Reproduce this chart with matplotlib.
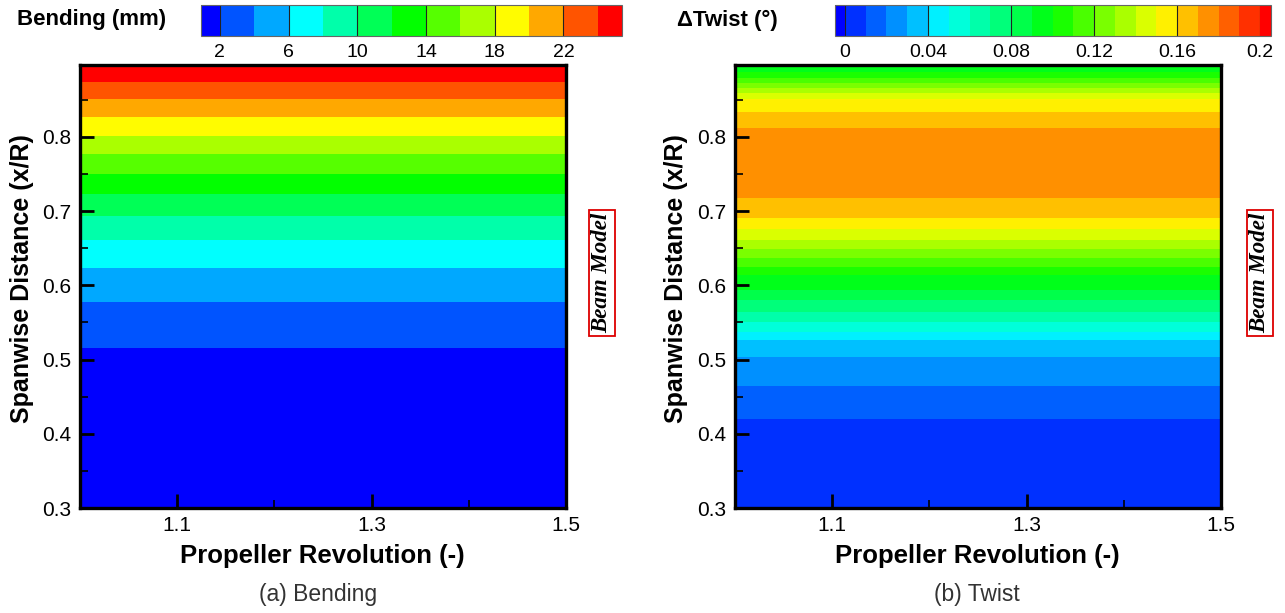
import matplotlib
matplotlib.use("Agg")
import matplotlib.pyplot as plt
from matplotlib.colors import LinearSegmentedColormap
import numpy as np

plt.rcParams["font.family"] = ["Liberation Sans", "DejaVu Sans"]

# propeller revolution stations (x axis), results are uniform along it
revolution = [1.0, 1.1, 1.2, 1.3, 1.4, 1.5]

# bending (mm) along the span
span_bend = [0.300, 0.5152, 0.578, 0.6235, 0.6612, 0.6939, 0.7232, 0.7501,
             0.7767, 0.8018, 0.8265, 0.8508, 0.8745, 0.897]
bending = [0.9, 2, 4, 6, 8, 10, 12, 14, 16, 18, 20, 22, 24, 25.9]

# delta twist (deg) along the span
span_twist = [0.300, 0.4195, 0.4644, 0.5039, 0.5264, 0.5376, 0.5511, 0.5646,
              0.5803, 0.5938, 0.6140, 0.6252, 0.6365, 0.6487, 0.6612, 0.6756,
              0.6904, 0.7182, 0.765, 0.8117, 0.8341, 0.8508, 0.8589, 0.8656,
              0.8724, 0.8791, 0.8880, 0.897]
twist = [0.004, 0.01, 0.02, 0.03, 0.04, 0.05, 0.06, 0.07, 0.08, 0.09, 0.10,
         0.11, 0.12, 0.13, 0.14, 0.15, 0.16, 0.17, 0.178, 0.17, 0.16, 0.15,
         0.14, 0.13, 0.12, 0.11, 0.10, 0.095]

bend_levels = np.arange(2, 25, 2)
bend_ticks = [2, 6, 10, 14, 18, 22]
twist_levels = np.round(np.linspace(0, 0.2, 21), 3)
twist_ticks = [0, 0.04, 0.08, 0.12, 0.16, 0.2]
twist_ticklabels = ["0", "0.04", "0.08", "0.12", "0.16", "0.2"]

W, H = 1285, 613
rainbow = LinearSegmentedColormap.from_list(
    "rb", ["#0000ff", "#00ffff", "#00ff00", "#ffff00", "#ff0000"])


def box(x0, y0, x1, y1):
    return [x0 / W, 1 - y1 / H, (x1 - x0) / W, (y1 - y0) / H]


def panel(fig, rect, crect, span, vals, levels, ticks, ticklabels, extfrac):
    ax = fig.add_axes(rect)
    X, Y = np.meshgrid(revolution, span)
    Z = np.tile(np.asarray(vals, float)[:, None], (1, len(revolution)))
    colors = rainbow(np.linspace(0, 1, len(levels) + 1))
    cs = ax.contourf(X, Y, Z, levels=levels, colors=colors, extend="both")
    ax.set_xlim(1.0, 1.5)
    ax.set_ylim(0.3, 0.897)
    ax.set_xticks([1.1, 1.3, 1.5])
    ax.set_xticks([1.2, 1.4], minor=True)
    ax.set_yticks(np.round(np.arange(0.3, 0.81, 0.1), 2))
    ax.set_yticks(np.round(np.arange(0.35, 0.9, 0.1), 2), minor=True)
    ax.set_yticklabels(["0.3", "0.4", "0.5", "0.6", "0.7", "0.8"])
    ax.tick_params(which="major", direction="in", length=10, width=2,
                   labelsize=15, pad=6)
    ax.tick_params(which="minor", direction="in", length=6, width=1.2)
    for s in ax.spines.values():
        s.set_linewidth(2.4)

    cax = fig.add_axes(crect)
    cb = fig.colorbar(cs, cax=cax, orientation="horizontal", extendrect=True,
                      extendfrac=extfrac, ticks=ticks)
    cb.set_ticklabels(ticklabels)
    cb.outline.set_edgecolor("#666666")
    cb.outline.set_linewidth(0.8)
    cb.ax.tick_params(length=0, labelsize=14, pad=6)
    for t in ticks:
        cb.ax.axvline(t, color="#222222", lw=0.8)
    return ax


fig = plt.figure(figsize=(W / 100, H / 100), dpi=100)

panel(fig, box(80, 65, 566, 508), box(201, 5, 622, 36), span_bend, bending,
      bend_levels, bend_ticks, [str(t) for t in bend_ticks], (0.05, 0.064))
panel(fig, box(735, 65, 1221, 508), box(835, 5, 1271, 36), span_twist, twist,
      twist_levels, twist_ticks, twist_ticklabels, (0.024, 0.026))

fig.text(92 / W, 1 - 20 / H, "Bending (mm)", ha="center", va="center",
         fontsize=16, fontweight="bold")
fig.text(727 / W, 1 - 20 / H, "\u0394Twist (\u00b0)", ha="center", va="center",
         fontsize=16, fontweight="bold")

for xc in (22, 676):
    fig.text(xc / W, 1 - 279 / H, "Spanwise Distance (x/R)", rotation=90,
             ha="center", va="center", fontsize=18, fontweight="bold")
for xc in (322, 977):
    fig.text(xc / W, 1 - 556 / H, "Propeller Revolution (-)", ha="center",
             va="center", fontsize=18.5, fontweight="bold")

fig.text(318 / W, 1 - 594 / H, "(a) Bending", ha="center", va="center",
         fontsize=16.5, color="#333333")
fig.text(977 / W, 1 - 594 / H, "(b) Twist", ha="center", va="center",
         fontsize=16.5, color="#333333")

for xc in (602, 1260):
    fig.text(xc / W, 1 - 273 / H, "Beam Model", rotation=90, ha="center",
             va="center", fontsize=16.5, fontweight="bold", fontstyle="italic",
             family="Liberation Serif",
             bbox=dict(boxstyle="square,pad=0.12", fc="white", ec="#dd0000",
                       lw=1.3))

fig.savefig("out.png", dpi=100)
